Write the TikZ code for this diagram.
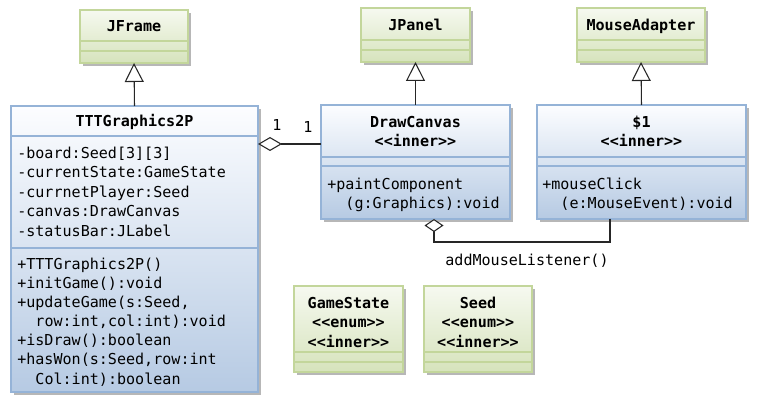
\documentclass[tikz,border=0pt]{standalone}
\usepackage{fontspec}
\newfontfamily\cons[Ligatures=TeXOff]{DejaVu Sans Mono}
\usetikzlibrary{arrows.meta,fit,shadows}
\definecolor{gborder}{RGB}{195,214,155}
\definecolor{gtop}{RGB}{246,249,240}
\definecolor{gbot}{RGB}{214,227,188}
\definecolor{bborder}{RGB}{149,179,215}
\definecolor{btop}{RGB}{252,253,255}
\definecolor{bbot}{RGB}{182,202,227}
\tikzset{
 base/.style={inner sep=0pt, outer sep=0pt, line width=1.3pt,
   drop shadow={shadow xshift=2.2pt, shadow yshift=-2.2pt, fill=black!70, opacity=.4}},
 greenbox/.style={base, draw=gborder, top color=gtop, bottom color=gbot},
 bluebox/.style={base, draw=bborder, top color=btop, bottom color=bbot},
 gdiv/.style={draw=gborder, line width=1.1pt},
 bdiv/.style={draw=bborder, line width=1.1pt},
 txt/.style={font=\cons\fontsize{11.3}{14}\selectfont, inner sep=0pt, text height=8.2pt, text depth=0pt},
 ttl/.style={txt, font=\cons\bfseries\fontsize{11.3}{14}\selectfont},
 conn/.style={draw=black!85, line width=0.8pt},
 inh/.style={conn, -{Triangle[length=14.25pt, width=14.25pt, fill=white]}},
 agg/.style={conn, -{Diamond[length=18pt, width=10.5pt, fill=white]}},
 aggv/.style={conn, -{Diamond[length=9.75pt, width=14.25pt, fill=white]}},
}
\begin{document}
\begin{tikzpicture}[x=0.75pt,y=-0.75pt]
\useasboundingbox (0,0) rectangle (758,403);
% JFrame
\node[greenbox, fit={(80,10) (188,63)}] (jframe) {};
\draw[gdiv] (80,41) -- (188,41) (80,51) -- (188,51);
\node[ttl] (jframeT) at (134,26) {JFrame};
% JPanel
\node[greenbox, fit={(361,8) (470,62)}] (jpanel) {};
\draw[gdiv] (361,40) -- (470,40) (361,50) -- (470,50);
\node[ttl] (jpanelT) at (415.5,25) {JPanel};
% MouseAdapter
\node[greenbox, fit={(577,8) (705,62)}] (madapt) {};
\draw[gdiv] (577,40) -- (705,40) (577,50) -- (705,50);
\node[ttl] (madaptT) at (641,25) {MouseAdapter};
% TTTGraphics2P
\node[bluebox, fit={(11,106) (258,392)}] (ttt) {};
\draw[bdiv] (11,136) -- (258,136) (11,248) -- (258,248);
\node[ttl] (tttT) at (134.5,121) {TTTGraphics2P};
\node[txt, anchor=west] (a1) at (17,153) {-board:Seed[3][3]};
\node[txt, anchor=west] (a2) at (17,172.5) {-currentState:GameState};
\node[txt, anchor=west] (a3) at (17,192) {-currnetPlayer:Seed};
\node[txt, anchor=west] (a4) at (17,211.5) {-canvas:DrawCanvas};
\node[txt, anchor=west] (a5) at (17,231) {-statusBar:JLabel};
\node[txt, anchor=west] (o1) at (17,264) {+TTTGraphics2P()};
\node[txt, anchor=west] (o2) at (17,283) {+initGame():void};
\node[txt, anchor=west] (o3) at (17,302) {+updateGame(s:Seed,};
\node[txt, anchor=west] (o4) at (35.2,321) {row:int,col:int):void};
\node[txt, anchor=west] (o5) at (17,340) {+isDraw():boolean};
\node[txt, anchor=west] (o6) at (17,359.5) {+hasWon(s:Seed,row:int};
\node[txt, anchor=west] (o7) at (35.2,379) {Col:int):boolean};
% DrawCanvas
\node[bluebox, fit={(321,105) (510,219)}] (dc) {};
\draw[bdiv] (321,157) -- (510,157) (321,166) -- (510,166);
\node[ttl] (dcT1) at (415.5,122) {DrawCanvas};
\node[ttl] (dcT2) at (415.5,141) {<<inner>>};
\node[txt, anchor=west] (dco1) at (327,184) {+paintComponent};
\node[txt, anchor=west] (dco2) at (345.2,203) {(g:Graphics):void};
% $1
\node[bluebox, fit={(537,105) (746,219)}] (d1) {};
\draw[bdiv] (537,157) -- (746,157) (537,166) -- (746,166);
\node[ttl] (d1T1) at (641.5,122) {\$1};
\node[ttl] (d1T2) at (641.5,141) {<<inner>>};
\node[txt, anchor=west] (d1o1) at (542,184) {+mouseClick};
\node[txt, anchor=west] (d1o2) at (560.2,203) {(e:MouseEvent):void};
% GameState
\node[greenbox, fit={(294,286) (403,372)}] (gs) {};
\draw[gdiv] (294,352) -- (403,352) (294,362) -- (403,362);
\node[ttl] (gsT1) at (348.5,303) {GameState};
\node[ttl] (gsT2) at (348.5,322.5) {<<enum>>};
\node[ttl] (gsT3) at (348.5,342) {<<inner>>};
% Seed
\node[greenbox, fit={(424,286) (532,372)}] (sd) {};
\draw[gdiv] (424,352) -- (532,352) (424,362) -- (532,362);
\node[ttl] (sdT1) at (478,303) {Seed};
\node[ttl] (sdT2) at (478,322.5) {<<enum>>};
\node[ttl] (sdT3) at (478,342) {<<inner>>};
% generalizations
\draw[inh] (ttt.north) -- (jframe.south);
\draw[inh] (dc.north) -- (jpanel.south);
\draw[inh] (d1.north) -- (madapt.south);
% aggregation TTT - DrawCanvas
\coordinate (aggA) at (dc.west |- 0,144);
\draw[agg] (aggA) -- (ttt.east |- aggA);
\node[txt] (m1) at (277,125) {1};
\node[txt] (m2) at (308,127) {1};
% addMouseListener
\coordinate (l0) at (d1.south -| 610,0);
\coordinate (l1) at (dc.south -| 434,0);
\draw[aggv] (l0) -- (l0 |- 0,242) -| (l1);
\node[txt] (lbl) at (527,260) {addMouseListener()};
\end{tikzpicture}
\end{document}
